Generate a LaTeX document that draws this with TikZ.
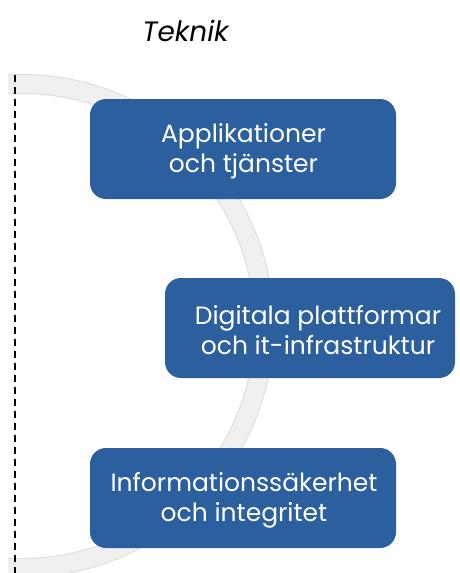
\documentclass[tikz,border=0pt]{standalone}
\usepackage{fontspec}
\setmainfont{Poppins}
\definecolor{boxblue}{HTML}{2C5F9E}
\definecolor{bandfill}{HTML}{F0F0F0}
\definecolor{bandline}{HTML}{DCDCDC}
\begin{document}
\begin{tikzpicture}[x=1pt,y=-1pt,
  bluebox/.style={draw=none,fill=boxblue,rounded corners=16pt,inner sep=0pt},
  boxtext/.style={text=white,align=center,font=\fontsize{25}{30}\selectfont,inner sep=0pt},
  titletext/.style={font=\fontsize{28}{30}\selectfont\itshape,inner sep=0pt}]
\useasboundingbox (0,0) rectangle (459,573);
\begin{scope}
  \clip (8,0) rectangle (459,573);
  \draw[bandline,line width=20pt] (22,326) circle[radius=242];
  \draw[bandfill,line width=18pt] (22,326) circle[radius=242];
\end{scope}
\coordinate (dtop) at (15,75);
\coordinate (dbot) at (15,573);
\draw[black,line width=1.4pt,dash pattern=on 7pt off 5pt] (dtop) -- (dbot);
\node[titletext] (title) at (185.5,31) {Teknik};
\node[bluebox,minimum width=306pt,minimum height=100pt] (b1) at (243,149) {};
\node[boxtext] (t1) at (243.5,151) {Applikationer\\och tjänster};
\node[bluebox,minimum width=290pt,minimum height=100pt] (b2) at (310,328) {};
\node[boxtext] (t2) at (318,330) {Digitala plattformar\\och it-infrastruktur};
\node[bluebox,minimum width=306pt,minimum height=100pt] (b3) at (243,498) {};
\node[boxtext] (t3) at (244,500) {Informationssäkerhet\\och integritet};
\end{tikzpicture}
\end{document}
